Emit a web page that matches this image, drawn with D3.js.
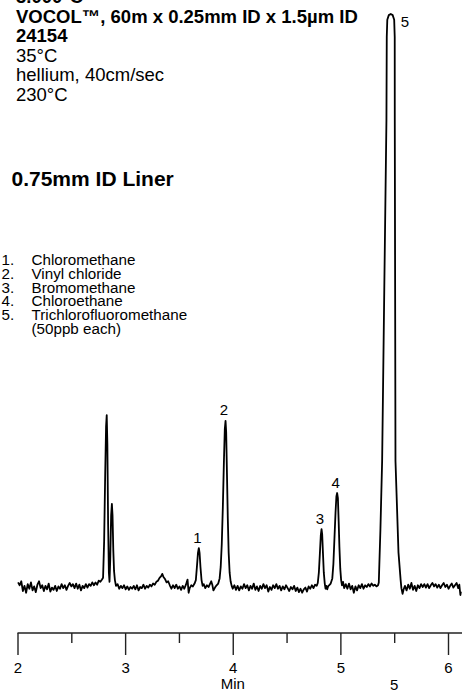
<!DOCTYPE html>
<html>
<head>
<meta charset="utf-8">
<script src="https://cdn.jsdelivr.net/npm/d3@7"></script>
<style>
  body { margin: 0; background: #fff; }
  svg { display: block; font-family: "Liberation Sans", Arial, sans-serif; }
</style>
</head>
<body>
<div id="chart"></div>
<script>
// header text (top of the original is clipped)
const headerBold = ['3.000°C', 'VOCOL™, 60m x 0.25mm ID x 1.5µm ID', '24154'];
const headerPlain = ['35°C', 'hellium, 40cm/sec', '230°C'];
const subtitle = '0.75mm ID Liner';

const compounds = ['Chloromethane', 'Vinyl chloride', 'Bromomethane', 'Chloroethane', 'Trichlorofluoromethane'];
const compoundNote = '(50ppb each)';

// labelled peaks: retention time (min) and apex signal
const peakIds = ['1', '2', '3', '4', '5'];
const peakTimes = [3.685, 3.933, 4.825, 4.970, 5.468];
const peakHeights = [6.8, 29, 10.1, 16.4, 100];

const majorTicks = [2, 3, 4, 5, 6];
const minorTicks = [2.5, 3.5, 4.5, 5.5];
const xTitle = 'Min';

// detector trace: [time (min), signal]
const trace = [
  [2.005,0.8],[2.02,0.3],[2.035,1.0],[2.05,-0.7],[2.065,0.2],[2.08,-1.0],[2.095,0.5],[2.11,-0.3],[2.125,0.8],[2.14,-0.6],
  [2.155,0.1],[2.17,-0.9],[2.185,0.4],[2.20,1.0],[2.215,-0.2],[2.23,0.3],[2.245,-0.7],[2.26,0.2],[2.275,-0.4],[2.29,0.6],
  [2.305,-0.8],[2.32,-0.1],[2.335,-0.5],[2.35,0.2],[2.365,-0.7],[2.38,0.1],[2.395,-0.3],[2.41,0.5],[2.425,-0.2],[2.44,0.3],
  [2.455,-0.5],[2.47,0.2],[2.485,0.7],[2.50,0.1],[2.515,0.5],[2.53,-0.2],[2.545,0.6],[2.56,-0.3],[2.575,0.4],[2.59,-0.6],
  [2.605,0.2],[2.62,-0.2],[2.635,0.5],[2.65,-0.1],[2.665,0.5],[2.68,0.2],[2.695,0.8],[2.71,0.3],[2.725,0.8],[2.74,0.4],
  [2.755,1.1],[2.77,0.9],[2.785,1.3],[2.795,1.6],
  [2.805,8],[2.815,20],[2.823,28],[2.829,30],[2.835,25],[2.842,11],[2.849,2.5],[2.855,0.9],[2.862,5],[2.870,12.5],
  [2.877,14.5],[2.883,12.5],[2.890,6.5],[2.897,2.8],[2.905,1.2],[2.915,0.2],
  [2.93,0.5],[2.945,-0.3],[2.96,0.2],[2.975,-0.2],[2.99,0.3],[3.005,-0.4],[3.02,0.1],[3.035,-0.5],[3.05,0.0],[3.065,-0.3],
  [3.08,0.2],[3.095,-0.4],[3.11,0.3],[3.125,-0.6],[3.14,0.0],[3.155,-0.2],[3.17,0.4],[3.185,-0.3],[3.20,0.2],[3.215,-0.1],
  [3.23,0.4],[3.245,0.1],[3.26,0.6],[3.275,0.4],[3.29,0.9],[3.305,1.1],[3.32,1.6],[3.335,1.9],[3.345,2.3],[3.355,1.8],
  [3.37,1.4],[3.385,0.8],[3.40,1.0],[3.415,0.3],[3.43,-0.3],[3.445,0.3],[3.46,-0.2],[3.475,0.4],[3.49,-0.3],[3.505,0.1],
  [3.52,-0.5],[3.535,0.2],[3.55,-0.3],[3.565,0.4],[3.58,1.3],[3.59,-1.0],[3.60,-0.2],[3.615,0.3],[3.63,0.1],[3.645,0.6],
  [3.657,1.2],[3.667,3.5],[3.677,6.0],[3.685,6.8],[3.692,5.9],[3.700,3.5],[3.710,1.2],[3.72,0.2],[3.73,0.5],[3.745,-0.2],
  [3.76,0.3],[3.775,0.0],[3.79,0.6],[3.80,1.0],[3.81,0.4],[3.82,-0.6],[3.835,-0.1],[3.85,0.3],[3.865,0.6],
  [3.878,1.5],[3.888,3.5],[3.898,7.5],[3.908,14],[3.918,22],[3.926,27.5],[3.933,29],[3.939,27],[3.946,20],[3.954,12],
  [3.962,6],[3.971,2.5],[3.980,1.0],[3.99,0.2],
  [4.00,-0.3],[4.015,0.3],[4.03,-0.5],[4.045,0.2],[4.06,-0.6],[4.075,0.1],[4.09,-0.3],[4.105,0.5],[4.12,-0.2],[4.135,0.3],
  [4.15,-0.6],[4.165,0.2],[4.18,-0.3],[4.195,0.6],[4.21,-0.5],[4.225,0.1],[4.24,-0.7],[4.255,0.2],[4.27,-0.3],[4.285,0.5],
  [4.30,-0.2],[4.315,0.3],[4.33,-0.8],[4.345,0.0],[4.36,-0.5],[4.375,0.3],[4.39,-0.2],[4.405,0.5],[4.42,-0.3],[4.435,0.2],
  [4.45,-0.6],[4.465,0.1],[4.48,-0.4],[4.495,0.3],[4.51,-0.2],[4.525,-0.7],[4.54,0.0],[4.555,-0.4],[4.57,0.2],[4.585,-0.7],
  [4.60,-0.1],[4.615,-0.9],[4.63,-0.3],[4.645,-1.0],[4.66,-0.4],[4.675,-0.1],[4.69,-0.8],[4.705,0.1],[4.72,-0.3],[4.735,0.3],
  [4.75,-0.2],[4.765,0.4],[4.78,0.2],[4.79,0.7],
  [4.80,2.5],[4.81,6],[4.818,9],[4.825,10.1],[4.831,9.2],[4.838,6],[4.846,2.5],[4.855,0.6],[4.862,-0.3],[4.870,0.2],
  [4.878,-0.4],[4.886,0.1],[4.895,0.3],[4.91,0.6],[4.925,1.5],[4.935,4],[4.945,8.5],[4.955,13],[4.963,15.8],[4.970,16.4],
  [4.977,15.5],[4.984,11.5],[4.991,7],[4.999,3.2],[5.007,1.2],[5.015,0.3],[5.025,0.9],
  [5.035,-0.2],[5.05,0.5],[5.065,-0.3],[5.08,0.6],[5.095,-0.4],[5.11,0.2],[5.125,-1.0],[5.14,0.1],[5.155,-0.6],[5.17,0.3],
  [5.185,-0.2],[5.20,0.5],[5.215,-0.3],[5.23,0.3],[5.245,0.0],[5.26,0.5],[5.275,0.1],[5.29,0.6],[5.305,0.2],[5.32,0.4],
  [5.335,0.1],[5.35,0.3],
  [5.357,0.8],[5.372,10],[5.388,22],[5.408,52],[5.428,81.5],[5.431,96],[5.436,99],[5.45,99.8],[5.468,100],[5.486,99.8],
  [5.500,99],[5.505,96],[5.5055,81.5],[5.512,22],[5.54,6],[5.56,1.2],[5.567,-0.2],[5.578,-1.2],[5.588,-0.4],
  [5.60,0.2],[5.615,-0.6],[5.63,0.4],[5.645,-0.3],[5.66,0.7],[5.675,-0.5],[5.69,0.2],[5.705,-0.7],[5.72,0.3],[5.735,-0.2],
  [5.75,0.5],[5.765,0.0],[5.78,0.5],[5.795,-0.1],[5.81,0.5],[5.825,-0.2],[5.84,0.3],[5.855,0.7],[5.87,0.1],[5.885,0.5],
  [5.90,-0.1],[5.915,0.4],[5.93,-0.2],[5.945,0.3],[5.96,0.7],[5.975,0.0],[5.99,0.4],[6.005,-0.3],[6.02,0.2],[6.035,0.6],
  [6.05,-0.1],[6.065,0.3],[6.08,0.7],[6.095,-0.2],[6.105,0.4],[6.115,-1.4],[6.12,-0.8]
];

const width = 462;
const height = 690;
const axisY = 633;

const svg = d3.select('#chart')
  .append('svg').attr('width', width).attr('height', height);

const scaleX = d3.scaleLinear()
  .domain([2, 6])
  .range([17.5, 448]);
const scaleY = d3.scaleLinear()
  .domain([0, 100])
  .range([587, 14]);

// header block
const header = svg.append('g').attr('fill', '#000').attr('font-size', 18.5);
headerBold.forEach((t, i) => {
  header.append('text').attr('x', 16).attr('y', 3 + i * 19.6)
    .attr('font-weight', 'bold').text(t);
});
headerPlain.forEach((t, i) => {
  header.append('text').attr('x', 16).attr('y', 3 + (i + 3) * 19.6).text(t);
});
svg.append('text')
  .attr('x', 11.5).attr('y', 185.5)
  .attr('font-size', 21).attr('font-weight', 'bold')
  .text(subtitle);

// compound list
const legend = svg.append('g').attr('font-size', 15.2);
compounds.forEach((name, i) => {
  const y = 265 + i * 13.8;
  legend.append('text').attr('x', 1.5).attr('y', y).text((i + 1) + '.');
  legend.append('text').attr('x', 31.5).attr('y', y).text(name);
});
legend.append('text').attr('x', 31.5).attr('y', 265 + compounds.length * 13.8).text(compoundNote);

// chromatogram
const line = d3.line()
  .x(d => scaleX(d[0]))
  .y(d => scaleY(d[1]));

svg.append('path')
  .datum(trace)
  .attr('fill', 'none')
  .attr('stroke', '#000')
  .attr('stroke-width', 1.8)
  .attr('stroke-linejoin', 'round')
  .attr('d', line);

// peak numbers
svg.append('g').attr('font-size', 15)
  .selectAll('text')
  .data(peakIds)
  .enter().append('text')
  .attr('text-anchor', (d, i) => peakHeights[i] >= 100 ? 'start' : 'middle')
  .attr('x', (d, i) => scaleX(peakTimes[i]) + (peakHeights[i] >= 100 ? 10 : -1.5))
  .attr('y', (d, i) => scaleY(peakHeights[i]) + (peakHeights[i] >= 100 ? 12.5 : -5.5))
  .text(d => d);

// time axis
svg.append('line')
  .attr('x1', scaleX(2)).attr('x2', width)
  .attr('y1', axisY).attr('y2', axisY)
  .attr('stroke', '#222').attr('stroke-width', 1.4);

const major = svg.append('g')
  .attr('transform', 'translate(0,' + axisY + ')')
  .call(d3.axisBottom(scaleX).tickValues(majorTicks).tickSize(22).tickPadding(7).tickSizeOuter(0).tickFormat(d3.format('d')));
major.select('.domain').remove();
major.selectAll('.tick line').attr('stroke', '#222').attr('stroke-width', 1.4);
major.selectAll('.tick text').attr('font-size', 15).attr('fill', '#000')
  .attr('font-family', '"Liberation Sans", Arial, sans-serif');

const minor = svg.append('g')
  .attr('transform', 'translate(0,' + axisY + ')')
  .call(d3.axisBottom(scaleX).tickValues(minorTicks).tickSize(10).tickFormat(''));
minor.select('.domain').remove();
minor.selectAll('.tick line').attr('stroke', '#222').attr('stroke-width', 1.4);

svg.append('text')
  .attr('x', scaleX(4)).attr('y', 689)
  .attr('text-anchor', 'middle').attr('font-size', 15)
  .text(xTitle);
svg.append('text')
  .attr('x', scaleX(5.5)).attr('y', 690)
  .attr('text-anchor', 'middle').attr('font-size', 15)
  .text(peakIds[4]);
</script>
</body>
</html>
